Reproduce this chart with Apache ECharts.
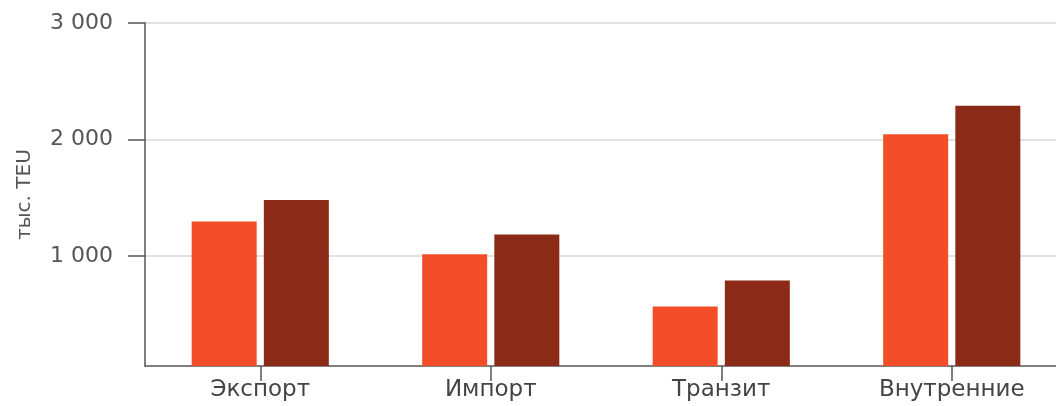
<!DOCTYPE html>
<html>
<head>
<meta charset="utf-8">
<script src="https://cdn.jsdelivr.net/npm/echarts@6/dist/echarts.min.js"></script>
<style>html,body{margin:0;padding:0;background:#fff;overflow:hidden;}#c{width:1056px;height:406px;}</style>
</head>
<body>
<div id="c"></div>
<script>
const categories = ['Экспорт', 'Импорт', 'Транзит', 'Внутренние'];
const seriesA = [1295, 1015, 565, 2045];
const seriesB = [1480, 1185, 790, 2290];
const yTicks = [1000, 2000, 3000];

function fmt(v) { return String(v).replace(/\B(?=(\d{3})+(?!\d))/g, ' '); }

const chart = echarts.init(document.getElementById('c'));
chart.setOption({
  animation: false,
  grid: { left: 145, width: 922, top: 23, bottom: 40, containLabel: false, outerBoundsMode: 'none' },
  xAxis: {
    type: 'category',
    data: categories,
    axisLine: { lineStyle: { color: '#555', width: 1.5 } },
    axisTick: { show: true, alignWithLabel: true, length: 15, lineStyle: { color: '#555', width: 1.5 } },
    axisLabel: { margin: 13, fontFamily: 'DejaVu Sans', fontSize: 23, color: '#444' }
  },
  yAxis: {
    type: 'value',
    min: 55,
    max: 3000,
    name: 'тыс. TEU',
    nameLocation: 'middle',
    nameRotate: 90,
    nameGap: 110,
    nameTextStyle: { fontFamily: 'DejaVu Sans', fontSize: 20, color: '#555' },
    axisLine: { show: true, lineStyle: { color: '#555', width: 1.5 } },
    axisTick: { show: true, length: 17, customValues: yTicks, lineStyle: { color: '#555', width: 1.5 } },
    axisLabel: { customValues: yTicks, margin: 32, fontFamily: 'DejaVu Sans', fontSize: 22, color: '#555', formatter: fmt },
    splitLine: { show: true, lineStyle: { color: '#d9d9d9', width: 1.5 } }
  },
  series: [
    { type: 'bar', data: seriesA, barWidth: 65, barGap: '11%', itemStyle: { color: '#F34E29' } },
    { type: 'bar', data: seriesB, barWidth: 65, barGap: '11%', itemStyle: { color: '#8B2A17' } }
  ]
});
</script>
</body>
</html>
